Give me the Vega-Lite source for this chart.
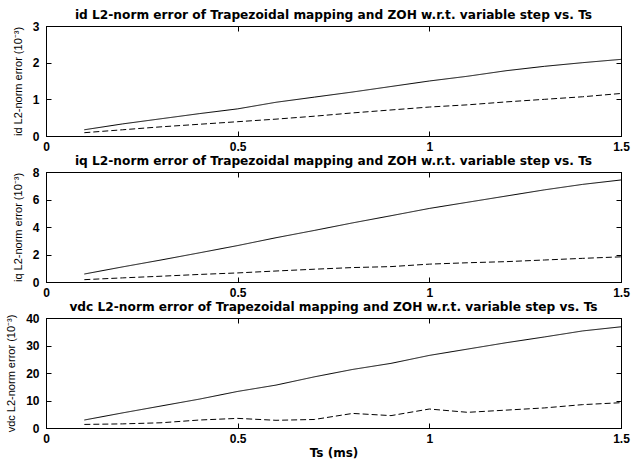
{
  "$schema": "https://vega.github.io/schema/vega-lite/v6.json",
  "background": "white",
  "padding": {"left": 5, "top": 8, "right": 5, "bottom": 3},
  "spacing": 36,
  "bounds": "flush",
  "datasets": {
    "id": [
      {"Ts": 0.1, "err": 0.17, "method": "Trapezoidal"},
      {"Ts": 0.2, "err": 0.33, "method": "Trapezoidal"},
      {"Ts": 0.3, "err": 0.47, "method": "Trapezoidal"},
      {"Ts": 0.4, "err": 0.61, "method": "Trapezoidal"},
      {"Ts": 0.5, "err": 0.74, "method": "Trapezoidal"},
      {"Ts": 0.6, "err": 0.92, "method": "Trapezoidal"},
      {"Ts": 0.7, "err": 1.06, "method": "Trapezoidal"},
      {"Ts": 0.8, "err": 1.2, "method": "Trapezoidal"},
      {"Ts": 0.9, "err": 1.35, "method": "Trapezoidal"},
      {"Ts": 1.0, "err": 1.5, "method": "Trapezoidal"},
      {"Ts": 1.1, "err": 1.63, "method": "Trapezoidal"},
      {"Ts": 1.2, "err": 1.78, "method": "Trapezoidal"},
      {"Ts": 1.3, "err": 1.9, "method": "Trapezoidal"},
      {"Ts": 1.4, "err": 2.0, "method": "Trapezoidal"},
      {"Ts": 1.5, "err": 2.09, "method": "Trapezoidal"},
      {"Ts": 0.1, "err": 0.09, "method": "ZOH"},
      {"Ts": 0.2, "err": 0.17, "method": "ZOH"},
      {"Ts": 0.3, "err": 0.25, "method": "ZOH"},
      {"Ts": 0.4, "err": 0.32, "method": "ZOH"},
      {"Ts": 0.5, "err": 0.39, "method": "ZOH"},
      {"Ts": 0.6, "err": 0.46, "method": "ZOH"},
      {"Ts": 0.7, "err": 0.54, "method": "ZOH"},
      {"Ts": 0.8, "err": 0.63, "method": "ZOH"},
      {"Ts": 0.9, "err": 0.71, "method": "ZOH"},
      {"Ts": 1.0, "err": 0.79, "method": "ZOH"},
      {"Ts": 1.1, "err": 0.85, "method": "ZOH"},
      {"Ts": 1.2, "err": 0.93, "method": "ZOH"},
      {"Ts": 1.3, "err": 1.0, "method": "ZOH"},
      {"Ts": 1.4, "err": 1.07, "method": "ZOH"},
      {"Ts": 1.5, "err": 1.16, "method": "ZOH"}
    ],
    "iq": [
      {"Ts": 0.1, "err": 0.58, "method": "Trapezoidal"},
      {"Ts": 0.2, "err": 1.1, "method": "Trapezoidal"},
      {"Ts": 0.3, "err": 1.6, "method": "Trapezoidal"},
      {"Ts": 0.4, "err": 2.12, "method": "Trapezoidal"},
      {"Ts": 0.5, "err": 2.65, "method": "Trapezoidal"},
      {"Ts": 0.6, "err": 3.22, "method": "Trapezoidal"},
      {"Ts": 0.7, "err": 3.75, "method": "Trapezoidal"},
      {"Ts": 0.8, "err": 4.3, "method": "Trapezoidal"},
      {"Ts": 0.9, "err": 4.82, "method": "Trapezoidal"},
      {"Ts": 1.0, "err": 5.35, "method": "Trapezoidal"},
      {"Ts": 1.1, "err": 5.8, "method": "Trapezoidal"},
      {"Ts": 1.2, "err": 6.25, "method": "Trapezoidal"},
      {"Ts": 1.3, "err": 6.7, "method": "Trapezoidal"},
      {"Ts": 1.4, "err": 7.1, "method": "Trapezoidal"},
      {"Ts": 1.5, "err": 7.42, "method": "Trapezoidal"},
      {"Ts": 0.1, "err": 0.17, "method": "ZOH"},
      {"Ts": 0.2, "err": 0.3, "method": "ZOH"},
      {"Ts": 0.3, "err": 0.42, "method": "ZOH"},
      {"Ts": 0.4, "err": 0.55, "method": "ZOH"},
      {"Ts": 0.5, "err": 0.66, "method": "ZOH"},
      {"Ts": 0.6, "err": 0.8, "method": "ZOH"},
      {"Ts": 0.7, "err": 0.93, "method": "ZOH"},
      {"Ts": 0.8, "err": 1.05, "method": "ZOH"},
      {"Ts": 0.9, "err": 1.12, "method": "ZOH"},
      {"Ts": 1.0, "err": 1.3, "method": "ZOH"},
      {"Ts": 1.1, "err": 1.4, "method": "ZOH"},
      {"Ts": 1.2, "err": 1.48, "method": "ZOH"},
      {"Ts": 1.3, "err": 1.6, "method": "ZOH"},
      {"Ts": 1.4, "err": 1.72, "method": "ZOH"},
      {"Ts": 1.5, "err": 1.83, "method": "ZOH"}
    ],
    "vdc": [
      {"Ts": 0.1, "err": 2.9, "method": "Trapezoidal"},
      {"Ts": 0.2, "err": 5.5, "method": "Trapezoidal"},
      {"Ts": 0.3, "err": 8.0, "method": "Trapezoidal"},
      {"Ts": 0.4, "err": 10.5, "method": "Trapezoidal"},
      {"Ts": 0.5, "err": 13.3, "method": "Trapezoidal"},
      {"Ts": 0.6, "err": 15.6, "method": "Trapezoidal"},
      {"Ts": 0.7, "err": 18.6, "method": "Trapezoidal"},
      {"Ts": 0.8, "err": 21.3, "method": "Trapezoidal"},
      {"Ts": 0.9, "err": 23.5, "method": "Trapezoidal"},
      {"Ts": 1.0, "err": 26.4, "method": "Trapezoidal"},
      {"Ts": 1.1, "err": 28.7, "method": "Trapezoidal"},
      {"Ts": 1.2, "err": 31.0, "method": "Trapezoidal"},
      {"Ts": 1.3, "err": 33.1, "method": "Trapezoidal"},
      {"Ts": 1.4, "err": 35.3, "method": "Trapezoidal"},
      {"Ts": 1.5, "err": 36.8, "method": "Trapezoidal"},
      {"Ts": 0.1, "err": 1.3, "method": "ZOH"},
      {"Ts": 0.2, "err": 1.5, "method": "ZOH"},
      {"Ts": 0.3, "err": 1.9, "method": "ZOH"},
      {"Ts": 0.4, "err": 2.9, "method": "ZOH"},
      {"Ts": 0.5, "err": 3.5, "method": "ZOH"},
      {"Ts": 0.6, "err": 2.8, "method": "ZOH"},
      {"Ts": 0.7, "err": 3.1, "method": "ZOH"},
      {"Ts": 0.8, "err": 5.3, "method": "ZOH"},
      {"Ts": 0.9, "err": 4.5, "method": "ZOH"},
      {"Ts": 1.0, "err": 6.9, "method": "ZOH"},
      {"Ts": 1.1, "err": 5.7, "method": "ZOH"},
      {"Ts": 1.2, "err": 6.5, "method": "ZOH"},
      {"Ts": 1.3, "err": 7.3, "method": "ZOH"},
      {"Ts": 1.4, "err": 8.5, "method": "ZOH"},
      {"Ts": 1.5, "err": 9.2, "method": "ZOH"}
    ]
  },
  "vconcat": [
    {
      "width": 575,
      "height": 110,
      "data": {"name": "id"},
      "title": {"text": "id L2-norm error of Trapezoidal mapping and ZOH w.r.t. variable step vs. Ts"},
      "resolve": {"axis": {"x": "independent", "y": "independent"}},
      "layer": [
        {
          "mark": {"type": "line", "color": "black", "strokeWidth": 1},
          "encoding": {
            "x": {"field": "Ts", "type": "quantitative", "scale": {"domain": [0, 1.5], "nice": false}, "axis": {"values": [0, 0.5, 1, 1.5], "title": null}},
            "y": {"field": "err", "type": "quantitative", "scale": {"domain": [0, 3], "nice": false}, "axis": {"values": [0, 1, 2, 3], "title": "id L2-norm error (10⁻³)"}},
            "strokeDash": {"field": "method", "type": "nominal", "scale": {"domain": ["Trapezoidal", "ZOH"], "range": [[1, 0], [6, 3]]}, "legend": null}
          }
        },
        {
          "mark": {"type": "point", "opacity": 0},
          "encoding": {
            "x": {"field": "Ts", "type": "quantitative", "scale": {"domain": [0, 1.5], "nice": false}, "axis": {"orient": "top", "values": [0, 0.5, 1, 1.5], "labels": false, "title": null}},
            "y": {"field": "err", "type": "quantitative", "scale": {"domain": [0, 3], "nice": false}, "axis": {"orient": "right", "values": [0, 1, 2, 3], "labels": false, "title": null}}
          }
        }
      ]
    },
    {
      "width": 575,
      "height": 110,
      "data": {"name": "iq"},
      "title": {"text": "iq L2-norm error of Trapezoidal mapping and ZOH w.r.t. variable step vs. Ts"},
      "resolve": {"axis": {"x": "independent", "y": "independent"}},
      "layer": [
        {
          "mark": {"type": "line", "color": "black", "strokeWidth": 1},
          "encoding": {
            "x": {"field": "Ts", "type": "quantitative", "scale": {"domain": [0, 1.5], "nice": false}, "axis": {"values": [0, 0.5, 1, 1.5], "title": null}},
            "y": {"field": "err", "type": "quantitative", "scale": {"domain": [0, 8], "nice": false}, "axis": {"values": [0, 2, 4, 6, 8], "title": "iq L2-norm error (10⁻³)"}},
            "strokeDash": {"field": "method", "type": "nominal", "scale": {"domain": ["Trapezoidal", "ZOH"], "range": [[1, 0], [6, 3]]}, "legend": null}
          }
        },
        {
          "mark": {"type": "point", "opacity": 0},
          "encoding": {
            "x": {"field": "Ts", "type": "quantitative", "scale": {"domain": [0, 1.5], "nice": false}, "axis": {"orient": "top", "values": [0, 0.5, 1, 1.5], "labels": false, "title": null}},
            "y": {"field": "err", "type": "quantitative", "scale": {"domain": [0, 8], "nice": false}, "axis": {"orient": "right", "values": [0, 2, 4, 6, 8], "labels": false, "title": null}}
          }
        }
      ]
    },
    {
      "width": 575,
      "height": 110,
      "data": {"name": "vdc"},
      "title": {"text": "vdc L2-norm error of Trapezoidal mapping and ZOH w.r.t. variable step vs. Ts"},
      "resolve": {"axis": {"x": "independent", "y": "independent"}},
      "layer": [
        {
          "mark": {"type": "line", "color": "black", "strokeWidth": 1},
          "encoding": {
            "x": {"field": "Ts", "type": "quantitative", "scale": {"domain": [0, 1.5], "nice": false}, "axis": {"values": [0, 0.5, 1, 1.5], "title": "Ts (ms)"}},
            "y": {"field": "err", "type": "quantitative", "scale": {"domain": [0, 40], "nice": false}, "axis": {"values": [0, 10, 20, 30, 40], "title": "vdc L2-norm error (10⁻³)"}},
            "strokeDash": {"field": "method", "type": "nominal", "scale": {"domain": ["Trapezoidal", "ZOH"], "range": [[1, 0], [6, 3]]}, "legend": null}
          }
        },
        {
          "mark": {"type": "point", "opacity": 0},
          "encoding": {
            "x": {"field": "Ts", "type": "quantitative", "scale": {"domain": [0, 1.5], "nice": false}, "axis": {"orient": "top", "values": [0, 0.5, 1, 1.5], "labels": false, "title": null}},
            "y": {"field": "err", "type": "quantitative", "scale": {"domain": [0, 40], "nice": false}, "axis": {"orient": "right", "values": [0, 10, 20, 30, 40], "labels": false, "title": null}}
          }
        }
      ]
    }
  ],
  "config": {
    "view": {"stroke": "black", "strokeWidth": 1},
    "title": {"font": "DejaVu Sans", "fontSize": 12.2, "fontWeight": "bold", "color": "black", "offset": -1, "anchor": "middle"},
    "axis": {
      "grid": false,
      "domainColor": "black",
      "tickColor": "black",
      "tickSize": -5,
      "format": "~r",
      "labelFont": "Liberation Sans",
      "labelFontSize": 12,
      "labelFontWeight": "bold",
      "labelColor": "black",
      "labelFlush": false,
      "labelPadding": 12,
      "labelOverlap": false,
      "titleFont": "Liberation Sans",
      "titleFontSize": 11,
      "titleFontWeight": "normal",
      "titleColor": "black",
      "titlePadding": 9
    },
    "axisX": {"titleFont": "DejaVu Sans", "titleFontWeight": "bold", "titleFontSize": 12, "titlePadding": 3, "labelPadding": 10}
  }
}
